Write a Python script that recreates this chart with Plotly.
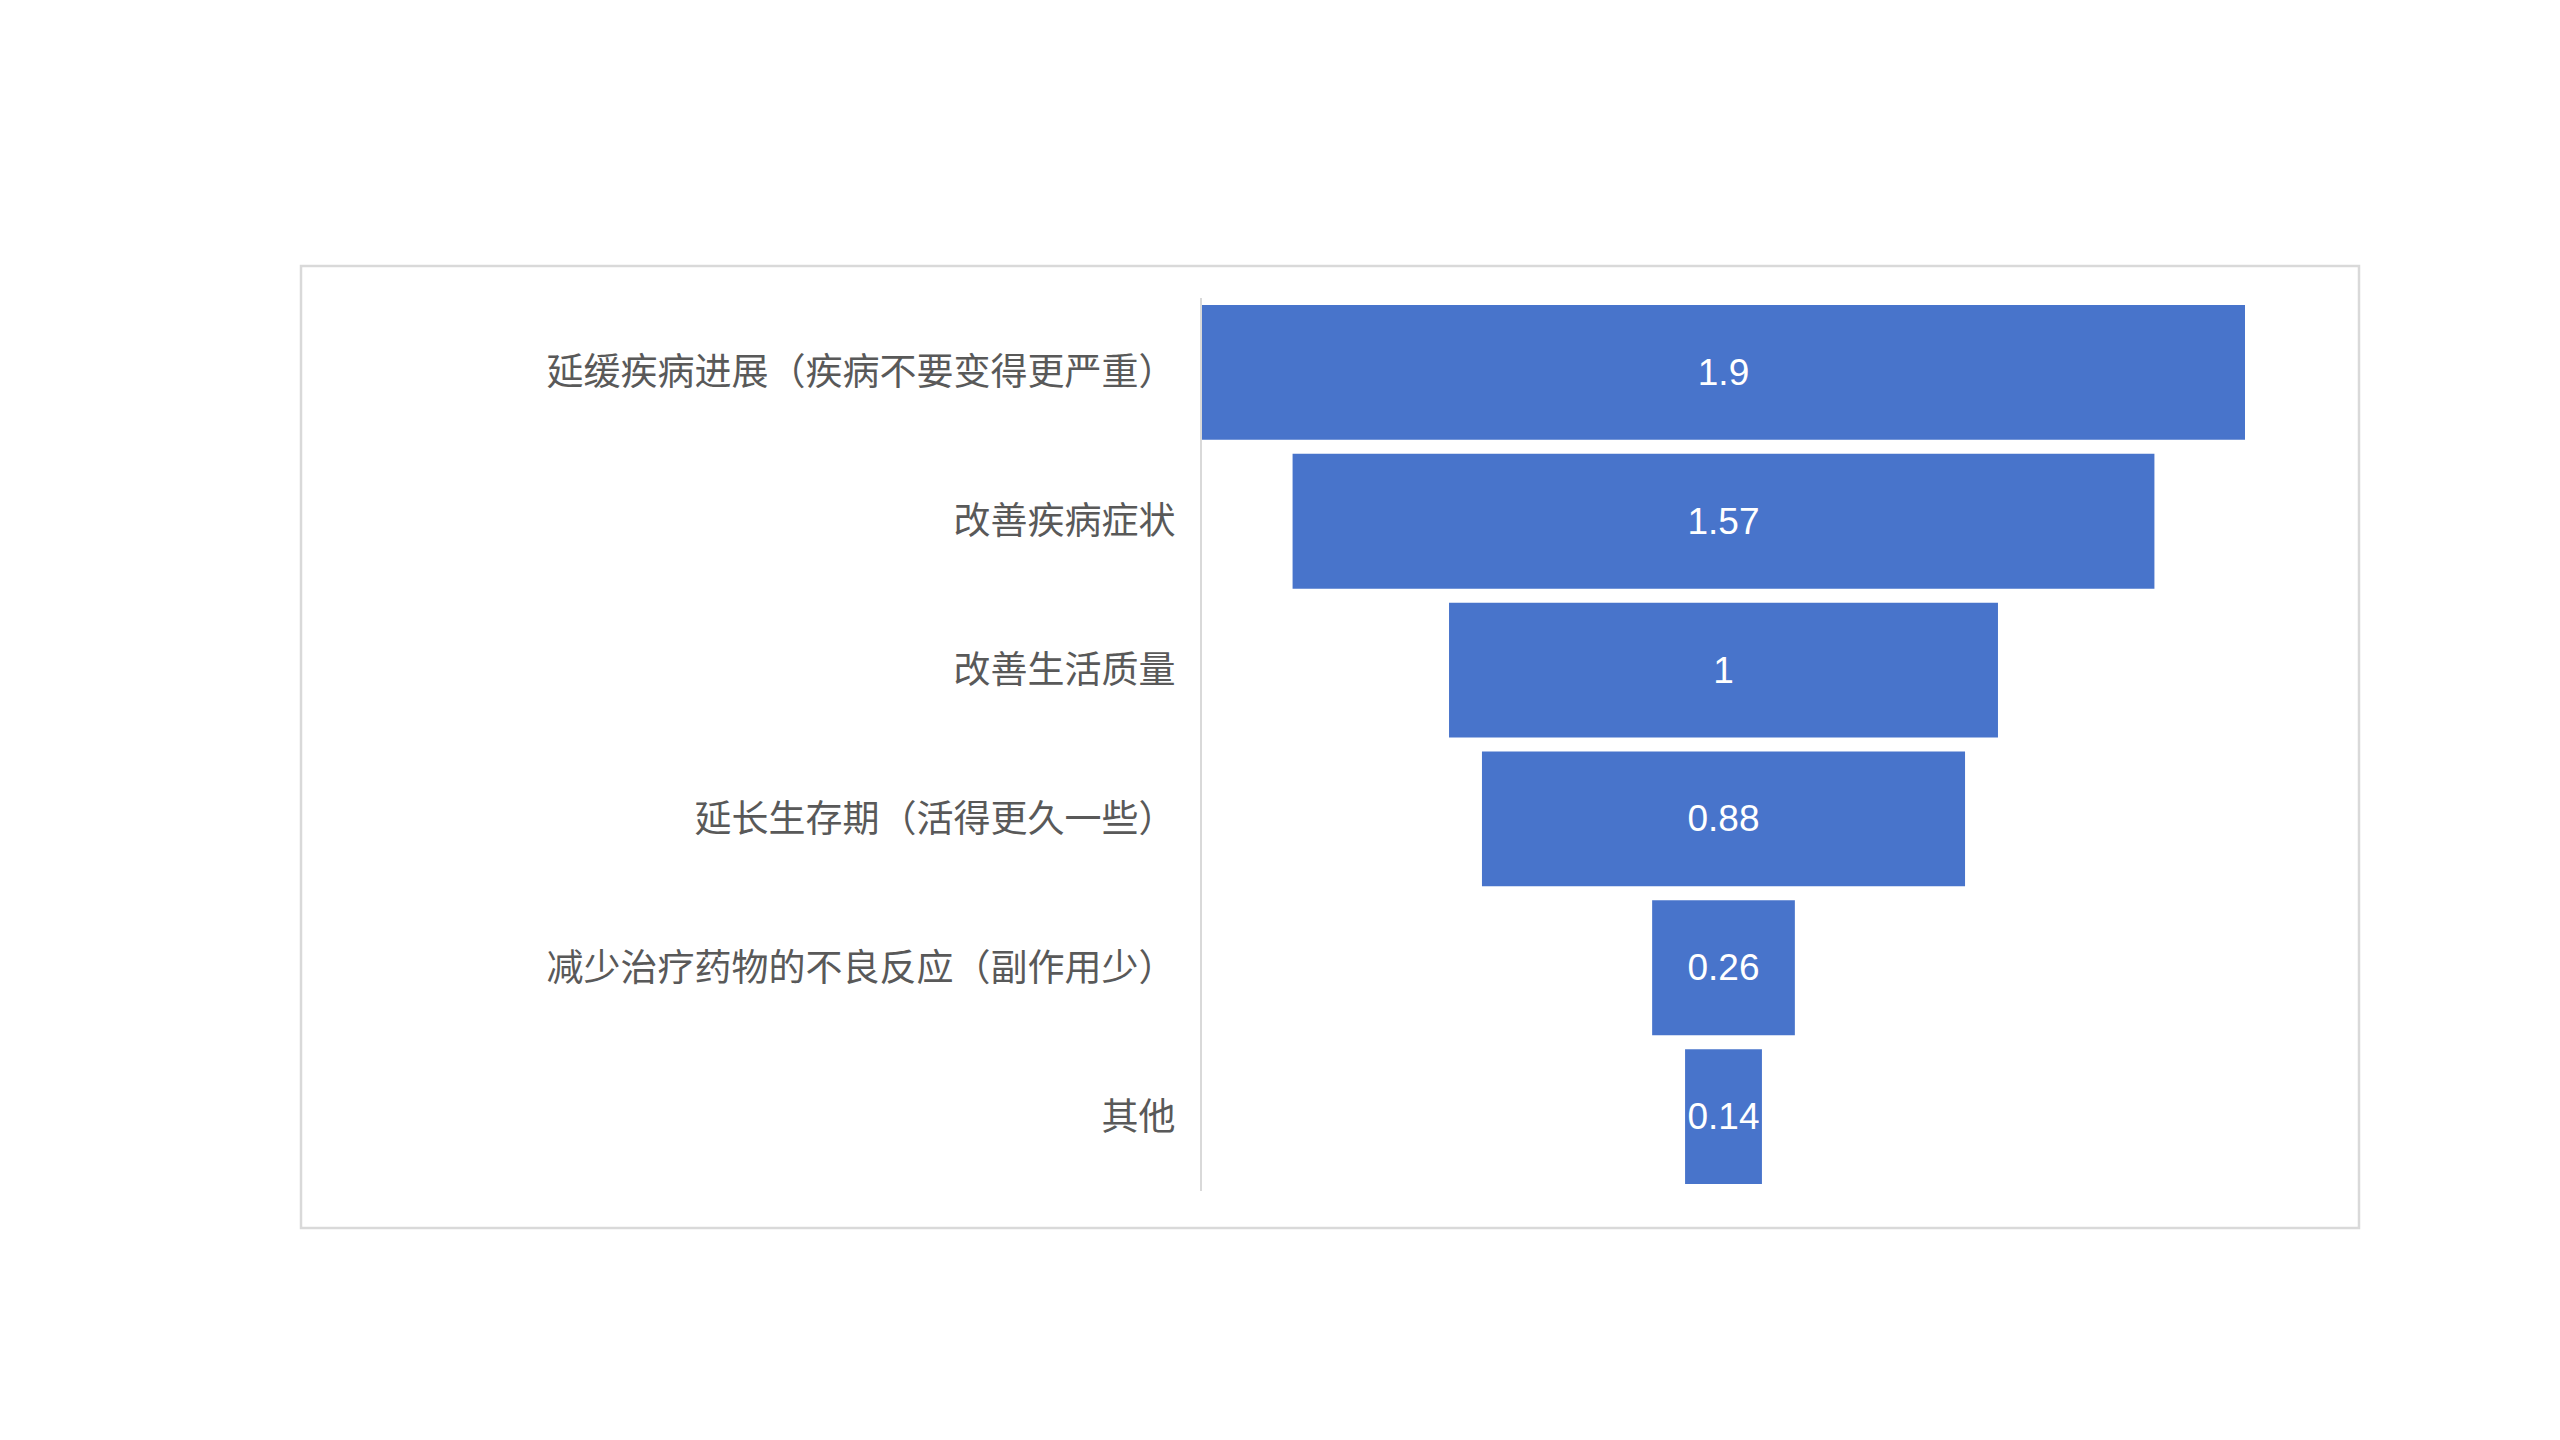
import plotly.graph_objects as go

# funnel data
stages = [
    "延缓疾病进展（疾病不要变得更严重）",
    "改善疾病症状",
    "改善生活质量",
    "延长生存期（活得更久一些）",
    "减少治疗药物的不良反应（副作用少）",
    "其他",
]
scores = [1.9, 1.57, 1, 0.88, 0.26, 0.14]

W, H = 2560, 1440
OFF = 8  # page body margin
# plot area in pixels
px_l, px_r, px_t, px_b = 1202 - OFF, 2245 - OFF, 298 - OFF, 1191 - OFF
# outer frame in pixels
fr_l, fr_r, fr_t, fr_b = 301 - OFF, 2359 - OFF, 266 - OFF, 1228 - OFF

pw = px_r - px_l
ph = px_b - px_t

fig = go.Figure()
fig.add_trace(
    go.Funnel(
        y=stages,
        x=scores,
        marker=dict(color="#4874CB"),
        connector=dict(visible=False),
        textinfo="value",
        textposition="inside",
        insidetextanchor="middle",
        constraintext="none",
        textfont=dict(family="Liberation Sans, Arial", size=37, color="#ffffff"),
        hoverinfo="y+x",
    )
)

half = max(scores) / 2
fig.update_layout(
    width=W,
    height=H,
    paper_bgcolor="white",
    plot_bgcolor="white",
    showlegend=False,
    funnelgap=0.094,
    margin=dict(l=px_l, r=W - px_r, t=px_t, b=H - px_b, autoexpand=False),
    xaxis=dict(range=[-half, half], visible=False, fixedrange=True),
    yaxis=dict(
        showline=True,
        linecolor="#d9d9d9",
        linewidth=2,
        showgrid=False,
        ticks="",
        ticklabelstandoff=17,
        tickfont=dict(family="Noto Sans CJK SC", size=37, color="#595959"),
    ),
    shapes=[
        dict(
            type="rect",
            xref="paper",
            yref="paper",
            x0=(fr_l - px_l) / pw,
            x1=(fr_r - px_l) / pw,
            y0=(px_b - fr_b) / ph,
            y1=(px_b - fr_t) / ph,
            line=dict(color="#d9d9d9", width=2.5),
            fillcolor="rgba(0,0,0,0)",
            layer="below",
        )
    ],
)

fig.write_html("out.html")
